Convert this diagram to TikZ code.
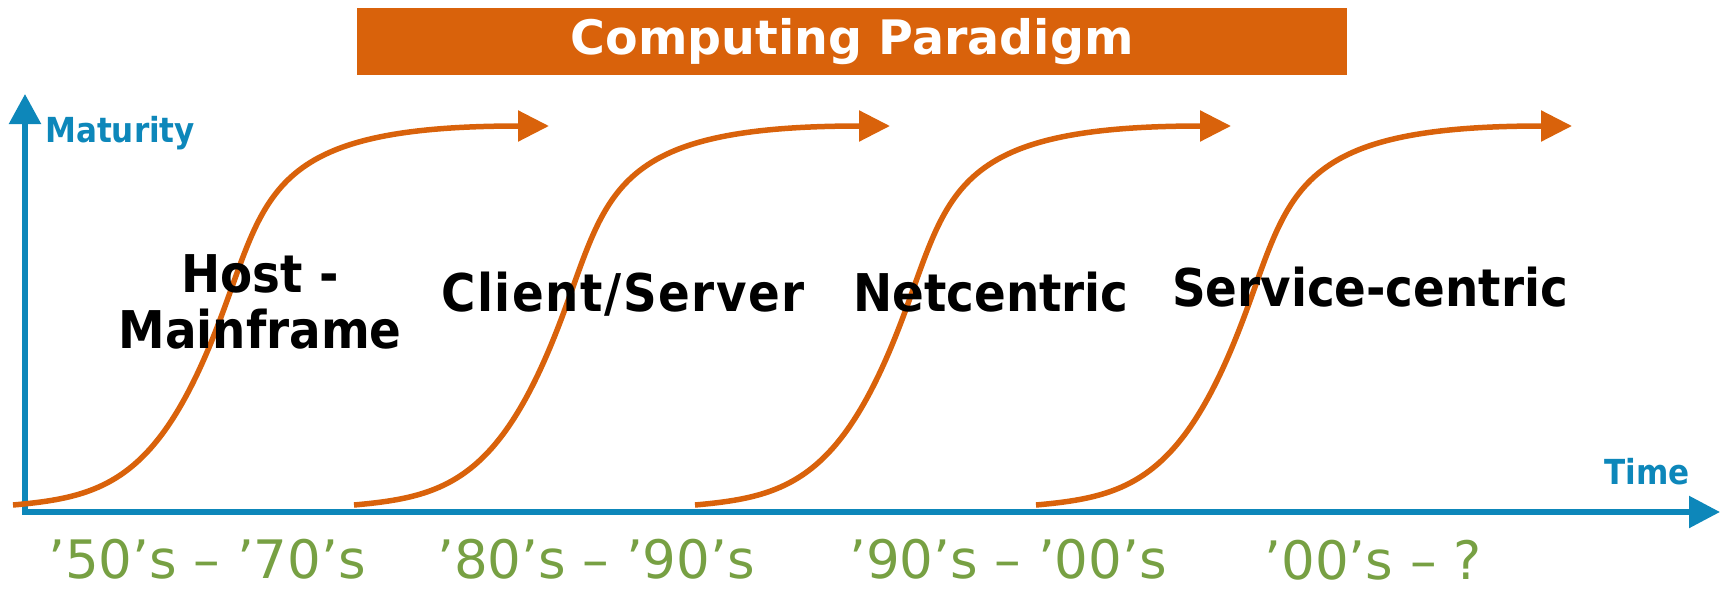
\documentclass[tikz,border=0pt]{standalone}
\usepackage{fontspec}
\setmainfont{DejaVu Sans}
\newfontfamily\cond{DejaVu Sans Condensed}
\usetikzlibrary{arrows.meta}
\definecolor{orng}{RGB}{217,98,11}
\definecolor{axblue}{RGB}{13,135,186}
\definecolor{grn}{RGB}{119,160,67}
\begin{document}
\begin{tikzpicture}[x=1pt,y=-1pt,
  curve/.style={orng,line width=5.5pt,-{Triangle[length=31pt,width=30pt]}},
  era/.style={grn,inner sep=0pt,font=\fontsize{53}{60}\selectfont,anchor=base},
  stage/.style={black,inner sep=0pt,font=\cond\bfseries\fontsize{52}{56}\selectfont,align=center},
  axlabel/.style={axblue,inner sep=0pt,font=\cond\bfseries\fontsize{34.5}{40}\selectfont,anchor=base west}]
\useasboundingbox (0,0) rectangle (1722,589);
\node[fill=orng,minimum width=990pt,minimum height=67pt,inner sep=0pt,text=white,
  font=\bfseries\fontsize{47.5}{56}\selectfont] (title) at (852,41.5) {Computing Paradigm};
\coordinate (origin) at (25,512);
\coordinate (ytip) at (25,94);
\coordinate (xtip) at (1720,512);
\draw[axblue,line width=5.5pt,{Triangle[length=30pt,width=31pt]}-{Triangle[length=31pt,width=31pt]}] (ytip) -- (origin) -- (xtip);
\node[axlabel] (mat) at (45,142) {Maturity};
\node[axlabel] (time) at (1604,484) {Time};
\foreach \i in {0,1,2,3}{
  \begin{scope}[shift={(13+341*\i,505)}]
    \draw[curve] (0,0) .. controls (90,-8) and (145,-24) .. (205,-180)
      .. controls (255,-310) and (250,-379) .. (536,-379);
  \end{scope}}
\node[stage,anchor=north] (host) at (260,254) {Host -\\Mainframe};
\node[stage,anchor=base,font=\cond\bfseries\fontsize{52}{56}\selectfont\addfontfeature{LetterSpace=3}] (cs) at (623,311) {Client/Server};
\node[stage,anchor=base] (net) at (991,311) {Netcentric};
\node[stage,anchor=base] (svc) at (1370,306) {Service-centric};
\node[era] (e1) at (207,578) {’50’s – ’70’s};
\node[era] (e2) at (596,578) {’80’s – ’90’s};
\node[era] (e3) at (1008,578) {’90’s – ’00’s};
\node[era] (e4) at (1373,579) {’00’s – ?};
\end{tikzpicture}
\end{document}
